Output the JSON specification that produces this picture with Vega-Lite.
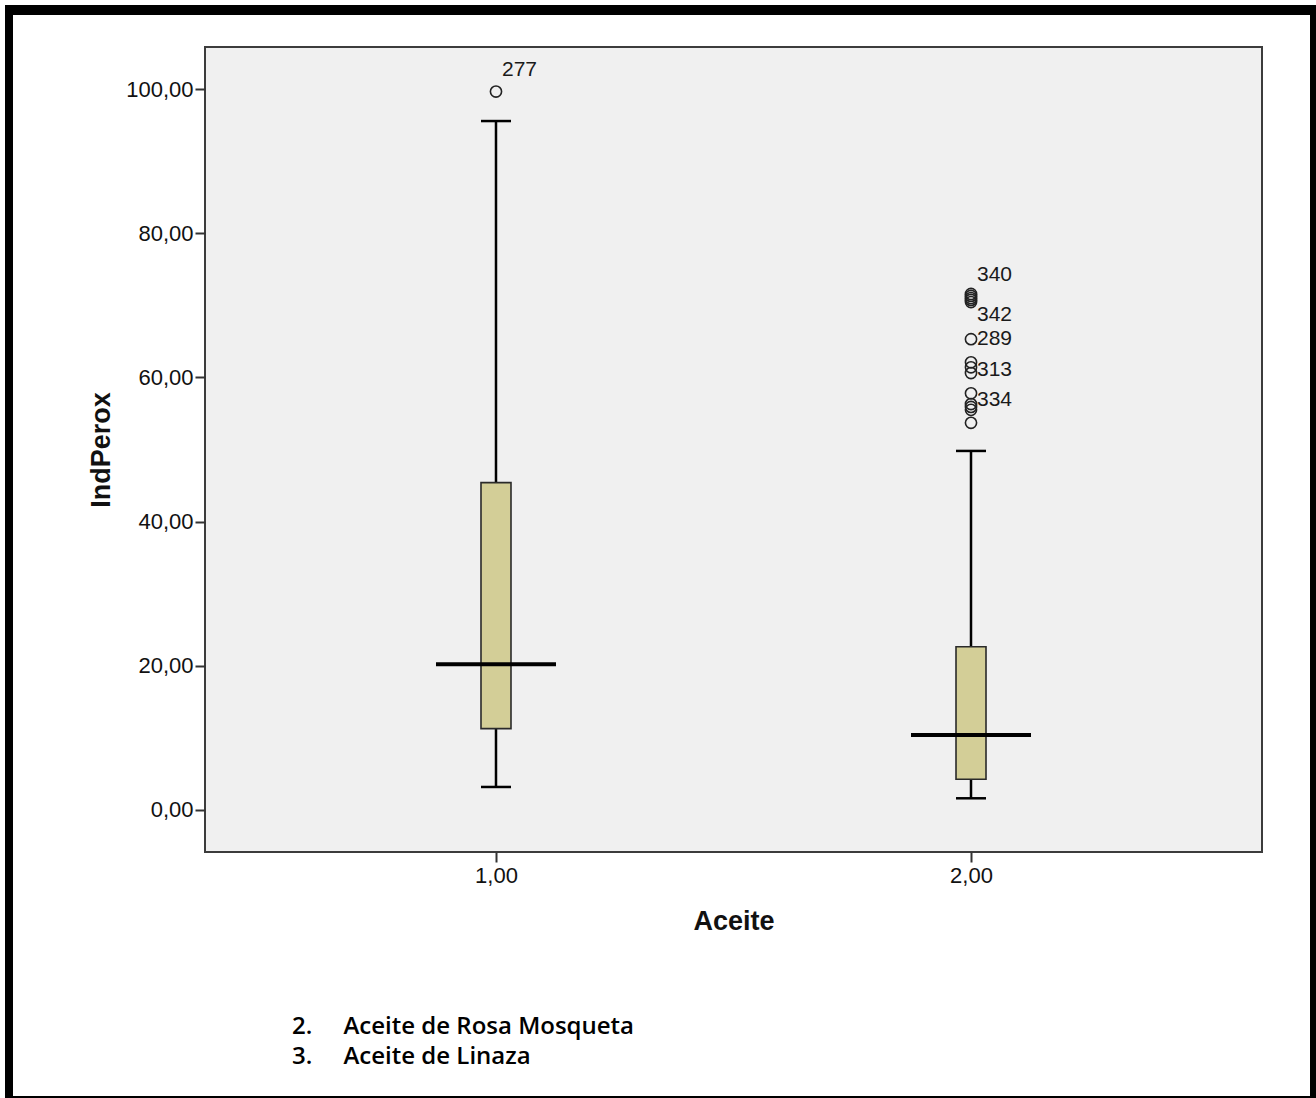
{
  "$schema": "https://vega.github.io/schema/vega-lite/v6.json",
  "background": "white",
  "padding": {"left": 5, "top": 5, "right": 0, "bottom": 0},
  "columns": 5,
  "spacing": 0,
  "bounds": "flush",
  "align": "each",
  "datasets": {
    "cajas": [
      {"Aceite": "1,00", "minimo": 3.19, "q1": 11.28, "mediana": 20.2, "q3": 45.4, "maximo": 95.56},
      {"Aceite": "2,00", "minimo": 1.62, "q1": 4.26, "mediana": 10.4, "q3": 22.65, "maximo": 49.8}
    ],
    "atipicos": [
      {"Aceite": "1,00", "IndPerox": 99.65},
      {"Aceite": "2,00", "IndPerox": 71.57},
      {"Aceite": "2,00", "IndPerox": 71.3},
      {"Aceite": "2,00", "IndPerox": 71.0},
      {"Aceite": "2,00", "IndPerox": 70.74},
      {"Aceite": "2,00", "IndPerox": 70.45},
      {"Aceite": "2,00", "IndPerox": 65.3},
      {"Aceite": "2,00", "IndPerox": 62.1},
      {"Aceite": "2,00", "IndPerox": 61.4},
      {"Aceite": "2,00", "IndPerox": 60.6},
      {"Aceite": "2,00", "IndPerox": 57.8},
      {"Aceite": "2,00", "IndPerox": 56.3},
      {"Aceite": "2,00", "IndPerox": 55.9},
      {"Aceite": "2,00", "IndPerox": 55.5},
      {"Aceite": "2,00", "IndPerox": 53.7}
    ],
    "etiquetas": [
      {"Aceite": "1,00", "IndPerox": 102.7, "caso": "277"},
      {"Aceite": "2,00", "IndPerox": 74.2, "caso": "340"},
      {"Aceite": "2,00", "IndPerox": 68.65, "caso": "342"},
      {"Aceite": "2,00", "IndPerox": 65.3, "caso": "289"},
      {"Aceite": "2,00", "IndPerox": 61.0, "caso": "313"},
      {"Aceite": "2,00", "IndPerox": 56.9, "caso": "334"}
    ]
  },
  "concat": [
    {"width": 8, "height": 10, "data": {"values": []}, "mark": "rect", "view": {"fill": "black", "stroke": null}},
    {"width": 192, "height": 10, "data": {"values": []}, "mark": "rect", "view": {"fill": "black", "stroke": null}},
    {"width": 1057, "height": 10, "data": {"values": []}, "mark": "rect", "view": {"fill": "black", "stroke": null}},
    {"width": 48, "height": 10, "data": {"values": []}, "mark": "rect", "view": {"fill": "black", "stroke": null}},
    {"width": 6, "height": 10, "data": {"values": []}, "mark": "rect", "view": {"fill": "black", "stroke": null}},

    {"width": 8, "height": 32, "data": {"values": []}, "mark": "rect", "view": {"fill": "black", "stroke": null}},
    {"width": 192, "height": 32, "data": {"values": []}, "mark": "rect", "view": {"fill": null, "stroke": null}},
    {"width": 1057, "height": 32, "data": {"values": []}, "mark": "rect", "view": {"fill": null, "stroke": null}},
    {"width": 48, "height": 32, "data": {"values": []}, "mark": "rect", "view": {"fill": null, "stroke": null}},
    {"width": 6, "height": 32, "data": {"values": []}, "mark": "rect", "view": {"fill": "black", "stroke": null}},

    {"width": 8, "height": 805, "data": {"values": []}, "mark": "rect", "view": {"fill": "black", "stroke": null}},
    {"width": 192, "height": 805, "data": {"values": []}, "mark": "rect", "view": {"fill": null, "stroke": null}},
    {
      "width": 1057,
      "height": 805,
      "view": {"fill": "#f0f0f0", "stroke": "#3c3c3c", "strokeWidth": 2},
      "title": {
        "text": ["2.\u00a0\u00a0\u00a0\u00a0\u00a0Aceite de Rosa Mosqueta", "3.\u00a0\u00a0\u00a0\u00a0\u00a0Aceite de Linaza"],
        "orient": "bottom",
        "anchor": "start",
        "frame": "group",
        "dx": 87,
        "offset": 81,
        "baseline": "top",
        "font": "Open Sans",
        "fontSize": 24,
        "fontWeight": 600,
        "lineHeight": 30,
        "color": "#000000"
      },
      "encoding": {
        "x": {
          "field": "Aceite",
          "type": "nominal",
          "title": "Aceite",
          "scale": {"type": "point", "padding": 0.6126, "domain": ["1,00", "2,00"]}
        }
      },
      "layer": [
        {
          "data": {"name": "cajas"},
          "mark": {"type": "rule", "color": "#000000", "strokeWidth": 2.5},
          "encoding": {
            "y": {
              "field": "minimo",
              "type": "quantitative",
              "title": "IndPerox",
              "scale": {"domain": [-5.83, 105.83], "nice": false, "zero": false},
              "axis": {"values": [0, 20, 40, 60, 80, 100], "format": ".2f"}
            },
            "y2": {"field": "maximo"}
          }
        },
        {
          "data": {"name": "cajas"},
          "mark": {"type": "bar", "size": 30, "fill": "#d3ce97", "stroke": "#2a2a2a", "strokeWidth": 1.6},
          "encoding": {
            "y": {"field": "q1", "type": "quantitative", "title": "IndPerox"},
            "y2": {"field": "q3"}
          }
        },
        {
          "data": {"name": "cajas"},
          "mark": {"type": "tick", "size": 30, "thickness": 2.5, "color": "#000000", "opacity": 1},
          "encoding": {
            "y": {"field": "minimo", "type": "quantitative", "title": "IndPerox"}
          }
        },
        {
          "data": {"name": "cajas"},
          "mark": {"type": "tick", "size": 30, "thickness": 2.5, "color": "#000000", "opacity": 1},
          "encoding": {
            "y": {"field": "maximo", "type": "quantitative", "title": "IndPerox"}
          }
        },
        {
          "data": {"name": "cajas"},
          "mark": {"type": "tick", "size": 120, "thickness": 4, "color": "#000000", "opacity": 1},
          "encoding": {
            "y": {"field": "mediana", "type": "quantitative", "title": "IndPerox"}
          }
        },
        {
          "data": {"name": "atipicos"},
          "mark": {"type": "point", "shape": "circle", "filled": false, "size": 125, "stroke": "#222222", "strokeWidth": 1.6, "opacity": 1},
          "encoding": {
            "y": {"field": "IndPerox", "type": "quantitative", "title": "IndPerox"}
          }
        },
        {
          "data": {"name": "etiquetas"},
          "mark": {"type": "text", "align": "left", "baseline": "middle", "dx": 6, "font": "Liberation Sans", "fontSize": 21, "color": "#1a1a1a"},
          "encoding": {
            "y": {"field": "IndPerox", "type": "quantitative", "title": "IndPerox"},
            "text": {"field": "caso"}
          }
        }
      ]
    },
    {"width": 48, "height": 805, "data": {"values": []}, "mark": "rect", "view": {"fill": null, "stroke": null}},
    {"width": 6, "height": 805, "data": {"values": []}, "mark": "rect", "view": {"fill": "black", "stroke": null}},

    {"width": 8, "height": 244, "data": {"values": []}, "mark": "rect", "view": {"fill": "black", "stroke": null}},
    {"width": 192, "height": 244, "data": {"values": []}, "mark": "rect", "view": {"fill": null, "stroke": null}},
    {"width": 1057, "height": 244, "data": {"values": []}, "mark": "rect", "view": {"fill": null, "stroke": null}},
    {"width": 48, "height": 244, "data": {"values": []}, "mark": "rect", "view": {"fill": null, "stroke": null}},
    {"width": 6, "height": 244, "data": {"values": []}, "mark": "rect", "view": {"fill": "black", "stroke": null}},

    {"width": 8, "height": 2, "data": {"values": []}, "mark": "rect", "view": {"fill": "black", "stroke": null}},
    {"width": 192, "height": 2, "data": {"values": []}, "mark": "rect", "view": {"fill": "black", "stroke": null}},
    {"width": 1057, "height": 2, "data": {"values": []}, "mark": "rect", "view": {"fill": "black", "stroke": null}},
    {"width": 48, "height": 2, "data": {"values": []}, "mark": "rect", "view": {"fill": "black", "stroke": null}},
    {"width": 6, "height": 2, "data": {"values": []}, "mark": "rect", "view": {"fill": "black", "stroke": null}}
  ],
  "config": {
    "locale": {"number": {"decimal": ",", "thousands": ".", "grouping": [3], "currency": ["", " €"]}},
    "axis": {
      "domain": false,
      "grid": false,
      "labelFont": "Liberation Sans",
      "labelFontSize": 22,
      "labelColor": "#111111",
      "tickColor": "#333333",
      "tickWidth": 2,
      "tickSize": 10,
      "titleFont": "Liberation Sans",
      "titleFontSize": 27,
      "titleFontWeight": "bold",
      "titleColor": "#111111"
    },
    "axisX": {"labelAngle": 0, "labelPadding": 3, "titlePadding": 22},
    "axisY": {"labelPadding": 2, "titlePadding": 10}
  }
}
